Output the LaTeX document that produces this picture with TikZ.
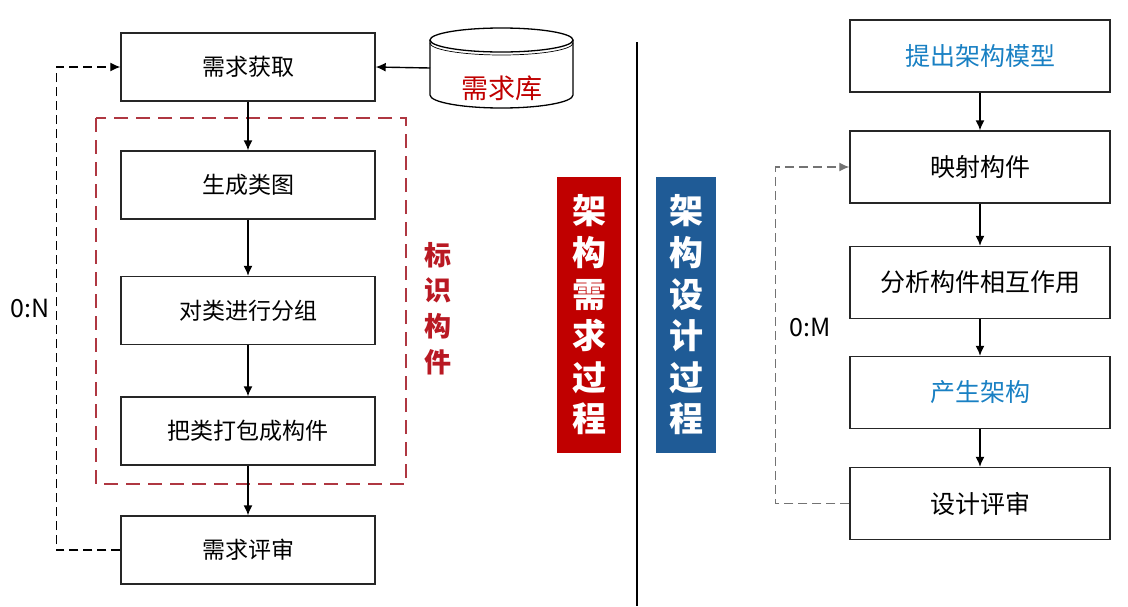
\documentclass[tikz,border=0pt]{standalone}
\usepackage{fontspec}
\setmainfont{Noto Sans CJK SC}
\usetikzlibrary{arrows.meta}
\definecolor{barred}{RGB}{192,0,0}
\definecolor{barblue}{RGB}{31,91,150}
\definecolor{txtblue}{RGB}{25,128,195}
\definecolor{markred}{RGB}{185,25,35}
\definecolor{idred}{RGB}{175,55,65}
\tikzset{
  procbox/.style={draw=black!85, line width=1.4pt, minimum width=254pt, minimum height=68pt, inner sep=0pt, font=\fontsize{23}{26}\selectfont},
  desbox/.style={procbox, minimum width=260pt, minimum height=72pt, font=\fontsize{25}{28}\selectfont},
  flowarrow/.style={line width=1.4pt, -{Latex[length=10pt,width=9pt]}},
  loopline/.style={line width=1.3pt, dash pattern=on 9pt off 5pt},
  sidebar/.style={minimum height=276pt, inner sep=0pt, text=white, align=center, font=\bfseries\fontsize{34}{41.6}\selectfont}
}
\begin{document}
\begin{tikzpicture}[x=1pt,y=1pt,yscale=-1,xscale=1]
\useasboundingbox (0,0) rectangle (1128,606);

% Requirement process
\node[procbox] (reqget) at (248,67) {需求获取};
\node[procbox] (genclass) at (248,185) {生成类图};
\node[procbox] (groupclass) at (248,310.5) {对类进行分组};
\node[procbox] (packclass) at (248,431) {把类打包成构件};
\node[procbox] (reqrev) at (248,550) {需求评审};

% Identify components frame
\draw[idred, line width=1.6pt, dash pattern=on 14pt off 8pt] (96,118) rectangle (406,484);
\node[text=markred, align=center, font=\bfseries\fontsize{27}{35.7}\selectfont] (idlabel) at (438,308.5) {标\\识\\构\\件};

% Requirement base
\draw[line width=1.3pt, fill=white] (430,40) -- (430,95) arc[start angle=180, end angle=0, x radius=71.5, y radius=13] -- (573,40);
\draw[line width=1.3pt] (501.5,40) ellipse [x radius=71.5, y radius=12];
\draw[line width=0.7pt] (430,43) arc[start angle=180, end angle=0, x radius=71.5, y radius=12];
\coordinate (dbleft) at (430,68);
\node[text=barred, font=\fontsize{27}{30}\selectfont] (dbname) at (501.5,88) {需求库};

% Straight Lines
\draw[flowarrow] (dbleft) -- (reqget.east);
\draw[flowarrow] (reqget) -- (genclass);
\draw[flowarrow] (genclass) -- (groupclass);
\draw[flowarrow] (groupclass) -- (packclass);
\draw[flowarrow] (packclass) -- (reqrev);
\draw[loopline, -{Latex[length=10pt,width=9pt]}] (reqrev.west) -- ++(-64,0) |- (reqget.west);
\node[font=\fontsize{25}{28}\selectfont] (loopn) at (30,308) {0:N};

% Divider
\draw[line width=1.8pt] (637,42) -- (637,606);

% Process bars
\node[sidebar, fill=barred, minimum width=64pt] (reqbar) at (589,315) {架\\构\\需\\求\\过\\程};
\node[sidebar, fill=barblue, minimum width=60pt] (desbar) at (686,315) {架\\构\\设\\计\\过\\程};

% Design process
\node[desbox, text=txtblue] (propose) at (980,56) {提出架构模型};
\node[desbox] (mapcomp) at (980,167) {映射构件};
\node[desbox] (interact) at (980,282.5) {分析构件相互作用};
\node[desbox, text=txtblue] (genarch) at (980,392.5) {产生架构};
\node[desbox] (desrev) at (980,503.5) {设计评审};

\draw[flowarrow] (propose) -- (mapcomp);
\draw[flowarrow] (mapcomp) -- (interact);
\draw[flowarrow] (interact) -- (genarch);
\draw[flowarrow] (genarch) -- (desrev);
\draw[loopline, black!55, -{Latex[length=10pt,width=9pt]}] (desrev.west) -- ++(-74,0) |- (mapcomp.west);
\node[font=\fontsize{25}{28}\selectfont] (loopm) at (810,327) {0:M};

\end{tikzpicture}
\end{document}
